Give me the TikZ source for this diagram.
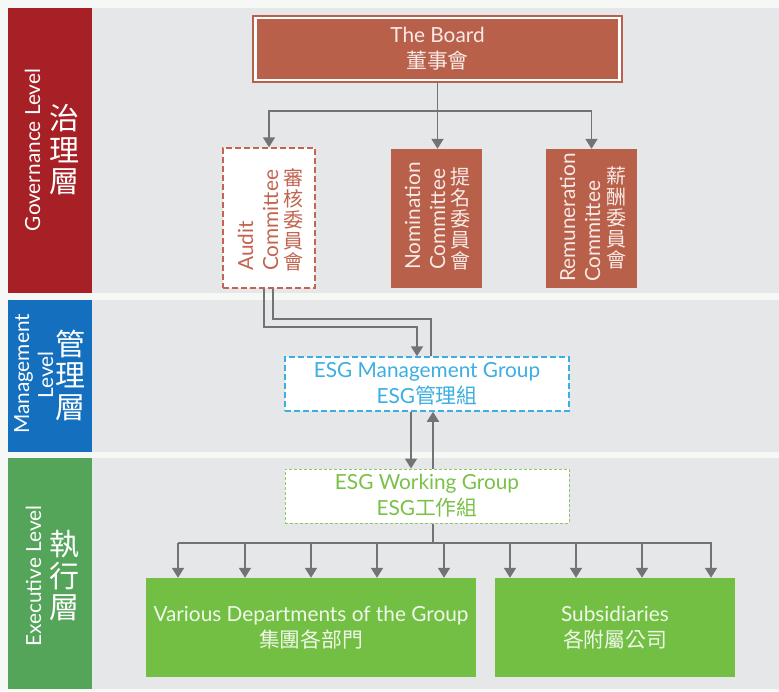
\documentclass[tikz,border=0pt]{standalone}
\usepackage{fontspec}
\setmainfont{Lato}
\newfontfamily\cjk{Noto Sans CJK TC}
\usetikzlibrary{arrows.meta}
\definecolor{pagebg}{RGB}{246,248,246}
\definecolor{bandgray}{RGB}{230,231,233}
\definecolor{govred}{RGB}{166,32,37}
\definecolor{mgblue}{RGB}{20,112,190}
\definecolor{exgreen}{RGB}{84,164,90}
\definecolor{boardc}{RGB}{185,96,75}
\definecolor{auditc}{RGB}{196,100,80}
\definecolor{connc}{RGB}{115,115,117}
\definecolor{esgblue}{RGB}{60,174,226}
\definecolor{esggreen}{RGB}{122,193,72}
\definecolor{esgedge}{RGB}{140,200,100}
\definecolor{deptgreen}{RGB}{114,191,68}
\definecolor{palered}{RGB}{248,234,230}
\definecolor{palegreen}{RGB}{240,248,234}
\newcommand{\fsz}[2]{\fontsize{#1}{#2}\selectfont}
\begin{document}
\begin{tikzpicture}[x=1pt,y=-1pt,
  conn/.style={draw=connc,line width=1.8pt},
  tip/.style={-{Triangle[width=12pt,length=10pt]}},
  enrot/.style={rotate=90,inner sep=0,font=\fsz{20.8}{24}},
  zhcol/.style={inner sep=0,align=center,font={\cjk\fsz{20}{21}}},
  lblzh/.style={inner sep=0,align=center,text=white,font={\cjk\fsz{30}{31.5}}},
  twoline/.style={inner sep=0,align=center,font=\fsz{20.8}{26}},
  cbox/.style={inner sep=0,minimum width=91pt,minimum height=139pt}]
\useasboundingbox (0,0) rectangle (779,691);
\fill[pagebg] (0,0) rectangle (779,691);
% bands
\fill[govred] (8,8) rectangle (92,293);
\fill[bandgray] (92,8) rectangle (779,293);
\fill[mgblue] (8,300) rectangle (92,452);
\fill[bandgray] (92,300) rectangle (779,452);
\fill[exgreen] (8,458) rectangle (92,689);
\fill[bandgray] (92,458) rectangle (779,689);
% band labels
\node[enrot,anchor=base,text=white] (govEN) at (40,150) {Governance Level};
\node[lblzh] (govZH) at (64,150) {治\\理\\層};
\node[enrot,anchor=base,text=white] (mgEN1) at (29,374) {Management};
\node[enrot,anchor=base,text=white] (mgEN2) at (53,375) {Level};
\node[lblzh] (mgZH) at (70,375) {管\\理\\層};
\node[enrot,anchor=base,text=white] (exEN) at (41,576) {Executive Level};
\node[lblzh] (exZH) at (64,576) {執\\行\\層};
% board
\node[draw=boardc,line width=1.2pt,fill=white,minimum width=369pt,minimum height=66pt,inner sep=0] (boardframe) at (437.5,49) {};
\node[twoline,fill=boardc,minimum width=361pt,minimum height=60pt,text=palered] (board) at (437.5,49) {The Board\\{\cjk 董事會}};
% committees
\node[cbox,fill=white,draw=auditc,line width=1.5pt,dash pattern=on 6pt off 3pt,minimum width=92pt,minimum height=140pt] (audit) at (269,218) {};
\node[cbox,fill=boardc] (nom) at (436.5,218.5) {};
\node[cbox,fill=boardc] (rem) at (591.5,218.5) {};
\node[enrot,anchor=base west,text=auditc] (auditEN1) at (253,271) {Audit};
\node[enrot,anchor=base west,text=auditc] (auditEN2) at (278,271) {Committee};
\node[zhcol,text=auditc] (auditZH) at (293.5,219.5) {審\\核\\委\\員\\會};
\node[enrot,anchor=base west,text=palered] (nomEN1) at (420,270) {Nomination};
\node[enrot,anchor=base west,text=palered] (nomEN2) at (445,270) {Committee};
\node[zhcol,text=palered] (nomZH) at (460,218.5) {提\\名\\委\\員\\會};
\node[enrot,anchor=base west,text=palered] (remEN1) at (575,282) {Remuneration};
\node[enrot,anchor=base west,text=palered] (remEN2) at (600,282) {Committee};
\node[zhcol,text=palered] (remZH) at (616.5,218) {薪\\酬\\委\\員\\會};
% ESG groups
\node[twoline,fill=white,draw=esgblue,line width=1.5pt,dash pattern=on 6pt off 3pt,minimum width=284pt,minimum height=54pt,text=esgblue] (mgmt) at (427,384) {ESG Management Group\\{ESG\cjk 管理組}};
\node[twoline,fill=white,draw=esgedge,line width=1pt,dash pattern=on 3pt off 2pt,minimum width=284pt,minimum height=54pt,text=esggreen] (work) at (427,496) {ESG Working Group\\{ESG\cjk 工作組}};
% executive boxes
\node[twoline,fill=deptgreen,minimum width=330pt,minimum height=99pt,text=palegreen] (dept) at (311,627.5) {Various Departments of the Group\\{\cjk 集團各部門}};
\node[twoline,fill=deptgreen,minimum width=240pt,minimum height=99pt,text=palegreen] (subs) at (615,627.5) {Subsidiaries\\{\cjk 各附屬公司}};
% connectors
\coordinate (bus1) at (437.5,111);
\draw[conn,tip] (boardframe.south) -- (boardframe.south |- nom.north);
\draw[conn,tip] (bus1) -| (audit.north);
\draw[conn,tip] (bus1) -| (rem.north);
\draw[conn,tip] ([xshift=-5pt]audit.south) -- ++(0,38) -| ([xshift=-10pt]mgmt.north);
\draw[conn] ([xshift=4pt]audit.south) -- ++(0,30) -| ([xshift=4pt]mgmt.north);
\draw[conn,tip] ([xshift=-16pt]mgmt.south) -- ([xshift=-16pt]work.north);
\draw[conn,tip] ([xshift=6pt]work.north) -- ([xshift=6pt]mgmt.south);
\coordinate (bus2) at (433,543);
\coordinate (busL) at (178,543);
\coordinate (busR) at (712,543);
\draw[conn] ([xshift=6pt]work.south) -- (bus2);
\draw[conn] (busL) -- (busR);
\foreach \x in {178,245,311,377,444} \draw[conn,tip] (\x,543) -- (dept.north -| \x,0);
\foreach \x in {510,576,642,711} \draw[conn,tip] (\x,543) -- (subs.north -| \x,0);
\end{tikzpicture}
\end{document}
